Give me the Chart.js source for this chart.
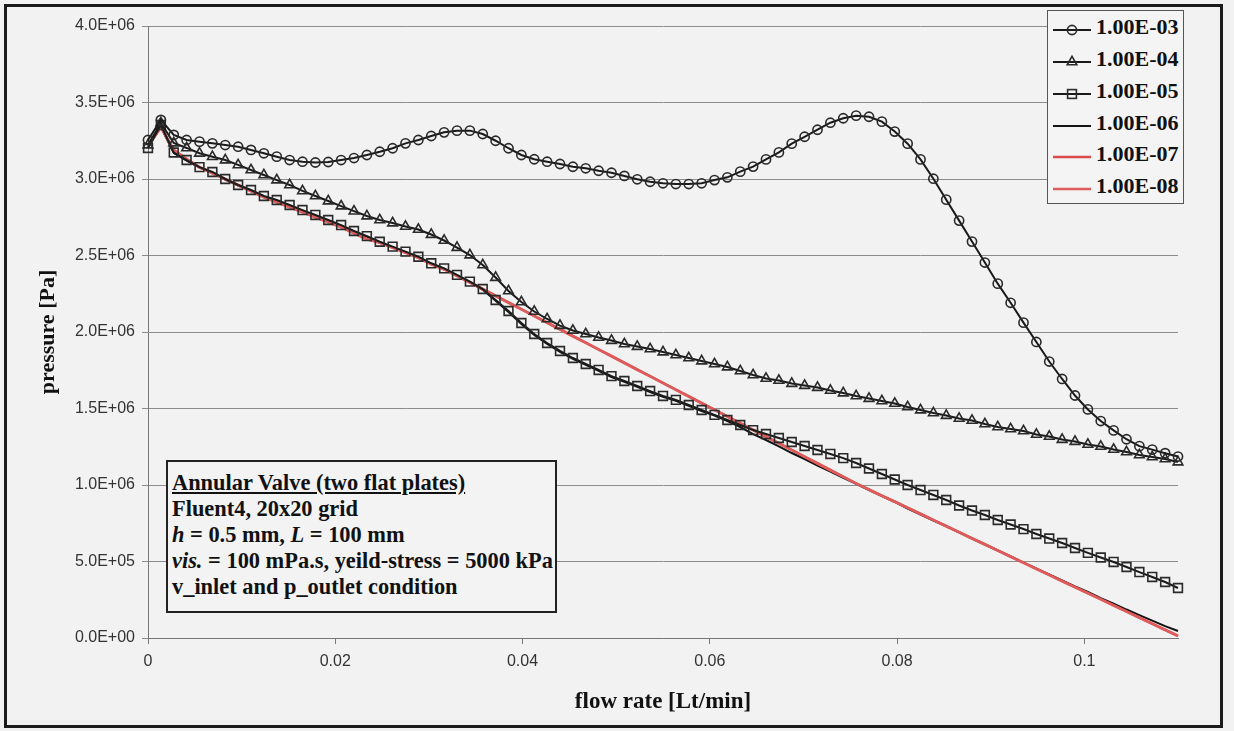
<!DOCTYPE html>
<html><head><meta charset="utf-8">
<script src="https://cdn.jsdelivr.net/npm/chart.js@4.4.1/dist/chart.umd.min.js"></script>
<style>
html,body{margin:0;padding:0;background:#f2f2f2;}
#wrap{position:relative;width:1234px;height:731px;overflow:hidden;background:#f2f2f2;}
#c{position:absolute;left:0;top:0;}
#frame{position:absolute;left:4px;top:4px;width:1213px;height:718px;border:3px solid #1c1c1c;pointer-events:none;}
#legend{position:absolute;left:1047px;top:10px;width:137px;height:194px;border:1px solid #555;background:#f4f4f4;box-sizing:border-box;}
#legend .row{position:absolute;left:4px;height:32px;width:130px;}
#legend svg{position:absolute;left:0;top:0;}
#legend span{position:absolute;left:44px;top:0;line-height:32px;font:bold 22px "Liberation Serif",serif;color:#111;white-space:nowrap;}
#note{position:absolute;left:166px;top:460px;width:391px;height:153px;border:2px solid #222;box-sizing:border-box;background:#f3f3f3;padding:8px 0 0 4px;font:bold 22.4px "Liberation Serif",serif;color:#111;}
#note div{line-height:26px;white-space:nowrap;}
</style></head>
<body>
<div id="wrap">
<canvas id="c" width="1234" height="731"></canvas>
<div id="legend"></div>
<div id="note">
<div style="text-decoration:underline">Annular Valve (two flat plates)</div>
<div>Fluent4, 20x20 grid</div>
<div><i>h</i> = 0.5 mm, <i>L</i> = 100 mm</div>
<div><i>vis.</i> = 100 mPa.s, yeild-stress = 5000 kPa</div>
<div>v_inlet and p_outlet condition</div>
</div>
<div id="frame"></div>
</div>
<script>
const seriesNames = ['1.00E-03','1.00E-04','1.00E-05','1.00E-06','1.00E-07','1.00E-08'];
const xTickLabels = ['0','0.02','0.04','0.06','0.08','0.1'];
const yTickLabels = ['0.0E+00','5.0E+05','1.0E+06','1.5E+06','2.0E+06','2.5E+06','3.0E+06','3.5E+06','4.0E+06'];

const flowRate = [0,0.001375,0.00275,0.004125,0.0055,0.006875,0.00825,0.009625,0.011,0.012375,
0.01375,0.015125,0.0165,0.017875,0.01925,0.020625,0.022,0.023375,0.02475,0.026125,
0.0275,0.028875,0.03025,0.031625,0.033,0.034375,0.03575,0.037125,0.0385,0.039875,
0.04125,0.042625,0.044,0.045375,0.04675,0.048125,0.0495,0.050875,0.05225,0.053625,
0.055,0.056375,0.05775,0.059125,0.0605,0.061875,0.06325,0.064625,0.066,0.067375,
0.06875,0.070125,0.0715,0.072875,0.07425,0.075625,0.077,0.078375,0.07975,0.081125,
0.0825,0.083875,0.08525,0.086625,0.088,0.089375,0.09075,0.092125,0.0935,0.094875,
0.09625,0.097625,0.099,0.100375,0.10175,0.103125,0.1045,0.105875,0.10725,0.108625,
0.11];

const p1e3 = [3.255e6,3.386e6,3.288e6,3.255e6,3.244e6,3.233e6,3.222e6,3.211e6,3.190e6,3.168e6,
3.146e6,3.124e6,3.113e6,3.108e6,3.111e6,3.124e6,3.137e6,3.157e6,3.178e6,3.201e6,
3.233e6,3.255e6,3.281e6,3.305e6,3.316e6,3.316e6,3.294e6,3.250e6,3.201e6,3.157e6,
3.129e6,3.113e6,3.098e6,3.080e6,3.070e6,3.054e6,3.041e6,3.020e6,2.998e6,2.982e6,
2.972e6,2.967e6,2.967e6,2.972e6,2.993e6,3.011e6,3.048e6,3.081e6,3.128e6,3.174e6,
3.231e6,3.276e6,3.322e6,3.368e6,3.397e6,3.414e6,3.407e6,3.375e6,3.310e6,3.231e6,
3.128e6,3.002e6,2.865e6,2.728e6,2.591e6,2.454e6,2.316e6,2.191e6,2.061e6,1.935e6,
1.807e6,1.693e6,1.585e6,1.494e6,1.418e6,1.357e6,1.299e6,1.254e6,1.231e6,1.208e6,
1.186e6];

const p1e4 = [3.222e6,3.366e6,3.235e6,3.203e6,3.168e6,3.146e6,3.124e6,3.092e6,3.059e6,3.026e6,
2.993e6,2.961e6,2.922e6,2.889e6,2.856e6,2.823e6,2.790e6,2.758e6,2.732e6,2.712e6,
2.690e6,2.670e6,2.637e6,2.598e6,2.552e6,2.503e6,2.438e6,2.356e6,2.268e6,2.196e6,
2.134e6,2.085e6,2.042e6,2.010e6,1.987e6,1.964e6,1.944e6,1.922e6,1.905e6,1.889e6,
1.869e6,1.850e6,1.830e6,1.810e6,1.791e6,1.771e6,1.745e6,1.719e6,1.696e6,1.683e6,
1.663e6,1.650e6,1.637e6,1.618e6,1.601e6,1.582e6,1.565e6,1.549e6,1.533e6,1.510e6,
1.490e6,1.471e6,1.454e6,1.435e6,1.422e6,1.399e6,1.379e6,1.366e6,1.353e6,1.330e6,
1.317e6,1.297e6,1.284e6,1.265e6,1.252e6,1.232e6,1.216e6,1.196e6,1.183e6,1.170e6,
1.150e6];

const p1e5 = [3.203e6,3.353e6,3.173e6,3.124e6,3.078e6,3.046e6,3.000e6,2.961e6,2.928e6,2.889e6,
2.863e6,2.830e6,2.797e6,2.765e6,2.732e6,2.699e6,2.660e6,2.627e6,2.590e6,2.558e6,
2.525e6,2.492e6,2.449e6,2.416e6,2.373e6,2.329e6,2.281e6,2.209e6,2.137e6,2.059e6,
1.987e6,1.928e6,1.876e6,1.830e6,1.791e6,1.752e6,1.712e6,1.680e6,1.647e6,1.614e6,
1.582e6,1.556e6,1.523e6,1.490e6,1.458e6,1.425e6,1.392e6,1.359e6,1.333e6,1.307e6,
1.281e6,1.255e6,1.229e6,1.203e6,1.176e6,1.144e6,1.108e6,1.072e6,1.036e6,1.000e6,
0.967e6,0.935e6,0.902e6,0.866e6,0.833e6,0.804e6,0.771e6,0.742e6,0.712e6,0.680e6,
0.650e6,0.621e6,0.588e6,0.556e6,0.526e6,0.497e6,0.464e6,0.431e6,0.399e6,0.366e6,
0.327e6];

const p1e6 = [3.210e6,3.340e6,3.170e6,3.120e6,3.075e6,3.042e6,2.996e6,2.957e6,2.924e6,2.885e6,
2.859e6,2.826e6,2.793e6,2.761e6,2.728e6,2.695e6,2.656e6,2.623e6,2.586e6,2.554e6,
2.521e6,2.488e6,2.445e6,2.412e6,2.369e6,2.325e6,2.276e6,2.204e6,2.131e6,2.053e6,
1.981e6,1.922e6,1.870e6,1.824e6,1.785e6,1.746e6,1.706e6,1.674e6,1.641e6,1.608e6,
1.576e6,1.550e6,1.517e6,1.484e6,1.454e6,1.418e6,1.379e6,1.333e6,1.294e6,1.252e6,
1.209e6,1.170e6,1.127e6,1.088e6,1.046e6,1.007e6,0.967e6,0.928e6,0.889e6,0.846e6,
0.807e6,0.768e6,0.729e6,0.690e6,0.650e6,0.611e6,0.572e6,0.533e6,0.493e6,0.454e6,
0.415e6,0.376e6,0.337e6,0.301e6,0.261e6,0.225e6,0.186e6,0.150e6,0.114e6,0.078e6,
0.046e6];

const p1e7 = [3.216e6,3.340e6,3.190e6,3.131e6,3.078e6,3.039e6,3.000e6,2.961e6,2.922e6,2.882e6,
2.850e6,2.817e6,2.784e6,2.752e6,2.719e6,2.686e6,2.647e6,2.608e6,2.585e6,2.553e6,
2.520e6,2.487e6,2.444e6,2.411e6,2.368e6,2.325e6,2.281e6,2.237e6,2.193e6,2.150e6,
2.106e6,2.062e6,2.018e6,1.974e6,1.931e6,1.887e6,1.843e6,1.799e6,1.755e6,1.712e6,
1.668e6,1.624e6,1.580e6,1.536e6,1.493e6,1.449e6,1.405e6,1.361e6,1.317e6,1.274e6,
1.230e6,1.186e6,1.142e6,1.098e6,1.055e6,1.011e6,0.971e6,0.931e6,0.892e6,0.852e6,
0.812e6,0.772e6,0.732e6,0.692e6,0.652e6,0.613e6,0.573e6,0.533e6,0.493e6,0.453e6,
0.413e6,0.373e6,0.333e6,0.294e6,0.254e6,0.214e6,0.174e6,0.134e6,0.094e6,0.054e6,
0.015e6];

const p1e8 = [3.214e6,3.338e6,3.188e6,3.129e6,3.076e6,3.037e6,2.998e6,2.959e6,2.920e6,2.880e6,
2.848e6,2.815e6,2.782e6,2.750e6,2.717e6,2.684e6,2.645e6,2.606e6,2.583e6,2.551e6,
2.518e6,2.485e6,2.442e6,2.409e6,2.366e6,2.323e6,2.279e6,2.235e6,2.191e6,2.148e6,
2.104e6,2.060e6,2.016e6,1.972e6,1.929e6,1.885e6,1.841e6,1.797e6,1.753e6,1.710e6,
1.666e6,1.622e6,1.578e6,1.534e6,1.491e6,1.447e6,1.403e6,1.359e6,1.315e6,1.272e6,
1.228e6,1.184e6,1.140e6,1.096e6,1.053e6,1.009e6,0.969e6,0.929e6,0.890e6,0.850e6,
0.810e6,0.770e6,0.730e6,0.690e6,0.650e6,0.611e6,0.571e6,0.531e6,0.491e6,0.451e6,
0.411e6,0.371e6,0.331e6,0.292e6,0.252e6,0.212e6,0.172e6,0.132e6,0.092e6,0.052e6,
0.012e6];

const seriesValues = [p1e3, p1e4, p1e5, p1e6, p1e7, p1e8];
const lineColors = ['#1a1a1a','#1a1a1a','#1a1a1a','#141414','#d94a4a','#de5c5c'];
const markerStyles = ['circle','triangle','rect',false,false,false];
const markerRadius = [4.6,5.6,6.2,0,0,0];
const drawOrder = [0,0,0,3,2,1];

const datasets = seriesValues.map((vals, k) => ({
  label: seriesNames[k],
  data: flowRate.map((x, i) => ({x: x, y: vals[i]})),
  showLine: true,
  borderColor: lineColors[k],
  borderWidth: k >= 4 ? 2.6 : 2,
  tension: 0,
  pointStyle: markerStyles[k] || 'circle',
  pointRadius: markerRadius[k],
  pointBorderColor: '#2a2a2a',
  pointBorderWidth: 1.6,
  pointBackgroundColor: 'rgba(0,0,0,0)',
  clip: false,
  order: drawOrder[k]
}));

new Chart(document.getElementById('c'), {
  type: 'scatter',
  data: {datasets: datasets},
  options: {
    responsive: false, animation: false, devicePixelRatio: 1,
    layout: {padding: {left: 35, top: 26, right: 56, bottom: 15}},
    plugins: {legend: {display: false}, tooltip: {enabled: false}},
    scales: {
      x: {
        type: 'linear', min: 0, max: 0.11,
        ticks: {stepSize: 0.02, includeBounds: false, padding: 8, color: '#333', autoSkip: false, maxRotation: 0,
          font: {family: 'Liberation Sans', size: 16},
          callback: (v) => xTickLabels[Math.round(v / 0.02)]},
        grid: {drawOnChartArea: false, drawTicks: true, tickLength: 6, color: '#777'},
        border: {color: '#777', width: 1},
        title: {display: true, text: 'flow rate [Lt/min]', color: '#111', padding: 0,
          font: {family: 'Liberation Serif', size: 23, weight: 'bold'}},
        afterFit: (s) => { s.height = 78; }
      },
      y: {
        min: 0, max: 4e6,
        ticks: {stepSize: 5e5, padding: 7, color: '#333', font: {family: 'Liberation Sans', size: 16},
          callback: (v) => yTickLabels[Math.round(v / 5e5)]},
        grid: {color: '#8c8c8c', tickLength: 6, lineWidth: 1},
        border: {color: '#777', width: 1},
        title: {display: true, text: 'pressure [Pa]', color: '#111', padding: 0,
          font: {family: 'Liberation Serif', size: 22, weight: 'bold'}},
        afterFit: (s) => { s.width = 113; }
      }
    }
  }
});

// legend (HTML)
const legendEl = document.getElementById('legend');
const rowCenters = [19, 51, 83, 115, 146, 178];
seriesNames.forEach((name, k) => {
  const row = document.createElement('div');
  row.className = 'row';
  row.style.top = (rowCenters[k] - 16) + 'px';
  let mk = '';
  if (markerStyles[k] === 'circle') mk = '<circle cx="20" cy="16" r="4.6" fill="none" stroke="#2a2a2a" stroke-width="1.6"/>';
  if (markerStyles[k] === 'triangle') mk = '<polygon points="20,10.4 24.8,18.8 15.2,18.8" fill="none" stroke="#2a2a2a" stroke-width="1.6"/>';
  if (markerStyles[k] === 'rect') mk = '<rect x="15.6" y="11.6" width="8.8" height="8.8" fill="none" stroke="#2a2a2a" stroke-width="1.6"/>';
  row.innerHTML = '<svg width="40" height="32"><line x1="1" y1="16" x2="39" y2="16" stroke="' + lineColors[k] +
    '" stroke-width="' + (k >= 4 ? 2.6 : 2) + '"/>' + mk + '</svg><span>' + name + '</span>';
  legendEl.appendChild(row);
});
</script>
</body></html>
